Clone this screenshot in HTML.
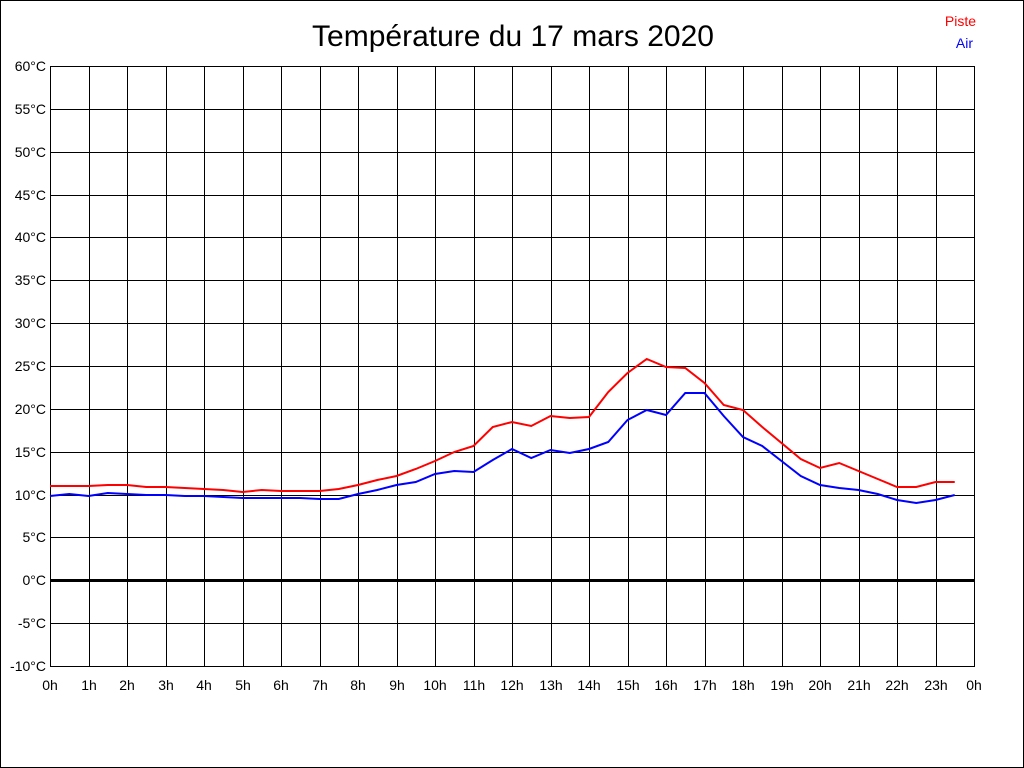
<!DOCTYPE html><html><head><style>body{margin:0;background:#fff}svg{display:block}text{font-family:"Liberation Sans",sans-serif}</style></head><body>
<svg width="1024" height="768" xmlns="http://www.w3.org/2000/svg">
<rect x="0.5" y="0.5" width="1023" height="767" fill="#fff" stroke="#000"/>
<text x="513" y="46" font-size="30" text-anchor="middle">Température du 17 mars 2020</text>
<text x="976" y="26" font-size="14" fill="#f00" text-anchor="end">Piste</text>
<text x="973" y="48" font-size="14" fill="#00f" text-anchor="end">Air</text>
<g stroke="#000" stroke-width="1" fill="none">
<line x1="50.5" y1="66" x2="50.5" y2="667"/><line x1="89.5" y1="66" x2="89.5" y2="667"/><line x1="127.5" y1="66" x2="127.5" y2="667"/><line x1="166.5" y1="66" x2="166.5" y2="667"/><line x1="204.5" y1="66" x2="204.5" y2="667"/><line x1="243.5" y1="66" x2="243.5" y2="667"/><line x1="281.5" y1="66" x2="281.5" y2="667"/><line x1="320.5" y1="66" x2="320.5" y2="667"/><line x1="358.5" y1="66" x2="358.5" y2="667"/><line x1="397.5" y1="66" x2="397.5" y2="667"/><line x1="435.5" y1="66" x2="435.5" y2="667"/><line x1="474.5" y1="66" x2="474.5" y2="667"/><line x1="512.5" y1="66" x2="512.5" y2="667"/><line x1="551.5" y1="66" x2="551.5" y2="667"/><line x1="589.5" y1="66" x2="589.5" y2="667"/><line x1="628.5" y1="66" x2="628.5" y2="667"/><line x1="666.5" y1="66" x2="666.5" y2="667"/><line x1="705.5" y1="66" x2="705.5" y2="667"/><line x1="743.5" y1="66" x2="743.5" y2="667"/><line x1="782.5" y1="66" x2="782.5" y2="667"/><line x1="820.5" y1="66" x2="820.5" y2="667"/><line x1="859.5" y1="66" x2="859.5" y2="667"/><line x1="897.5" y1="66" x2="897.5" y2="667"/><line x1="936.5" y1="66" x2="936.5" y2="667"/><line x1="974.5" y1="66" x2="974.5" y2="667"/>
<line x1="50" y1="66.5" x2="975" y2="66.5"/><line x1="50" y1="109.5" x2="975" y2="109.5"/><line x1="50" y1="152.5" x2="975" y2="152.5"/><line x1="50" y1="195.5" x2="975" y2="195.5"/><line x1="50" y1="237.5" x2="975" y2="237.5"/><line x1="50" y1="280.5" x2="975" y2="280.5"/><line x1="50" y1="323.5" x2="975" y2="323.5"/><line x1="50" y1="366.5" x2="975" y2="366.5"/><line x1="50" y1="409.5" x2="975" y2="409.5"/><line x1="50" y1="452.5" x2="975" y2="452.5"/><line x1="50" y1="495.5" x2="975" y2="495.5"/><line x1="50" y1="537.5" x2="975" y2="537.5"/><line x1="50" y1="580.5" x2="975" y2="580.5" stroke-width="3"/><line x1="50" y1="623.5" x2="975" y2="623.5"/><line x1="50" y1="666.5" x2="975" y2="666.5"/>
</g>
<g font-size="14" text-anchor="end">
<text x="46" y="71">60°C</text><text x="46" y="114">55°C</text><text x="46" y="157">50°C</text><text x="46" y="200">45°C</text><text x="46" y="242">40°C</text><text x="46" y="285">35°C</text><text x="46" y="328">30°C</text><text x="46" y="371">25°C</text><text x="46" y="414">20°C</text><text x="46" y="457">15°C</text><text x="46" y="500">10°C</text><text x="46" y="542">5°C</text><text x="46" y="585">0°C</text><text x="46" y="628">-5°C</text><text x="46" y="671">-10°C</text>
</g>
<g font-size="14" text-anchor="middle">
<text x="50" y="690">0h</text><text x="89" y="690">1h</text><text x="127" y="690">2h</text><text x="166" y="690">3h</text><text x="204" y="690">4h</text><text x="243" y="690">5h</text><text x="281" y="690">6h</text><text x="320" y="690">7h</text><text x="358" y="690">8h</text><text x="397" y="690">9h</text><text x="435" y="690">10h</text><text x="474" y="690">11h</text><text x="512" y="690">12h</text><text x="551" y="690">13h</text><text x="589" y="690">14h</text><text x="628" y="690">15h</text><text x="666" y="690">16h</text><text x="705" y="690">17h</text><text x="743" y="690">18h</text><text x="782" y="690">19h</text><text x="820" y="690">20h</text><text x="859" y="690">21h</text><text x="897" y="690">22h</text><text x="936" y="690">23h</text><text x="974" y="690">0h</text>
</g>
<polyline fill="none" stroke="#f00" stroke-width="2" points="50,486 69.25,486 88.5,486 107.75,485 127,485 146.25,487 165.5,487 184.75,488 204,489 223.25,490 242.5,492 261.75,490 281,491 300.25,491 319.5,491 338.75,489 358,485 377.25,480 396.5,476 415.75,469 435,461 454.25,452 473.5,446 492.75,427 512,422 531.25,426 550.5,416 569.75,418 589,417 608.25,392 627.5,373 646.75,359 666,367 685.25,368 704.5,383 723.75,405 743,410 762.25,427 781.5,443 800.75,459 820,468 839.25,463 858.5,471 877.75,479 897,487 916.25,487 935.5,482 954.75,482"/>
<polyline fill="none" stroke="#00f" stroke-width="2" points="50,496 69.25,494 88.5,496 107.75,493 127,494 146.25,495 165.5,495 184.75,496 204,496 223.25,497 242.5,498 261.75,498 281,498 300.25,498 319.5,499 338.75,499 358,494 377.25,490 396.5,485 415.75,482 435,474 454.25,471 473.5,472 492.75,460 512,449 531.25,458 550.5,450 569.75,453 589,449 608.25,442 627.5,420 646.75,410 666,415 685.25,393 704.5,393 723.75,416 743,437 762.25,446 781.5,461 800.75,476 820,485 839.25,488 858.5,490 877.75,494 897,500 916.25,503 935.5,500 954.75,495"/>
</svg></body></html>
